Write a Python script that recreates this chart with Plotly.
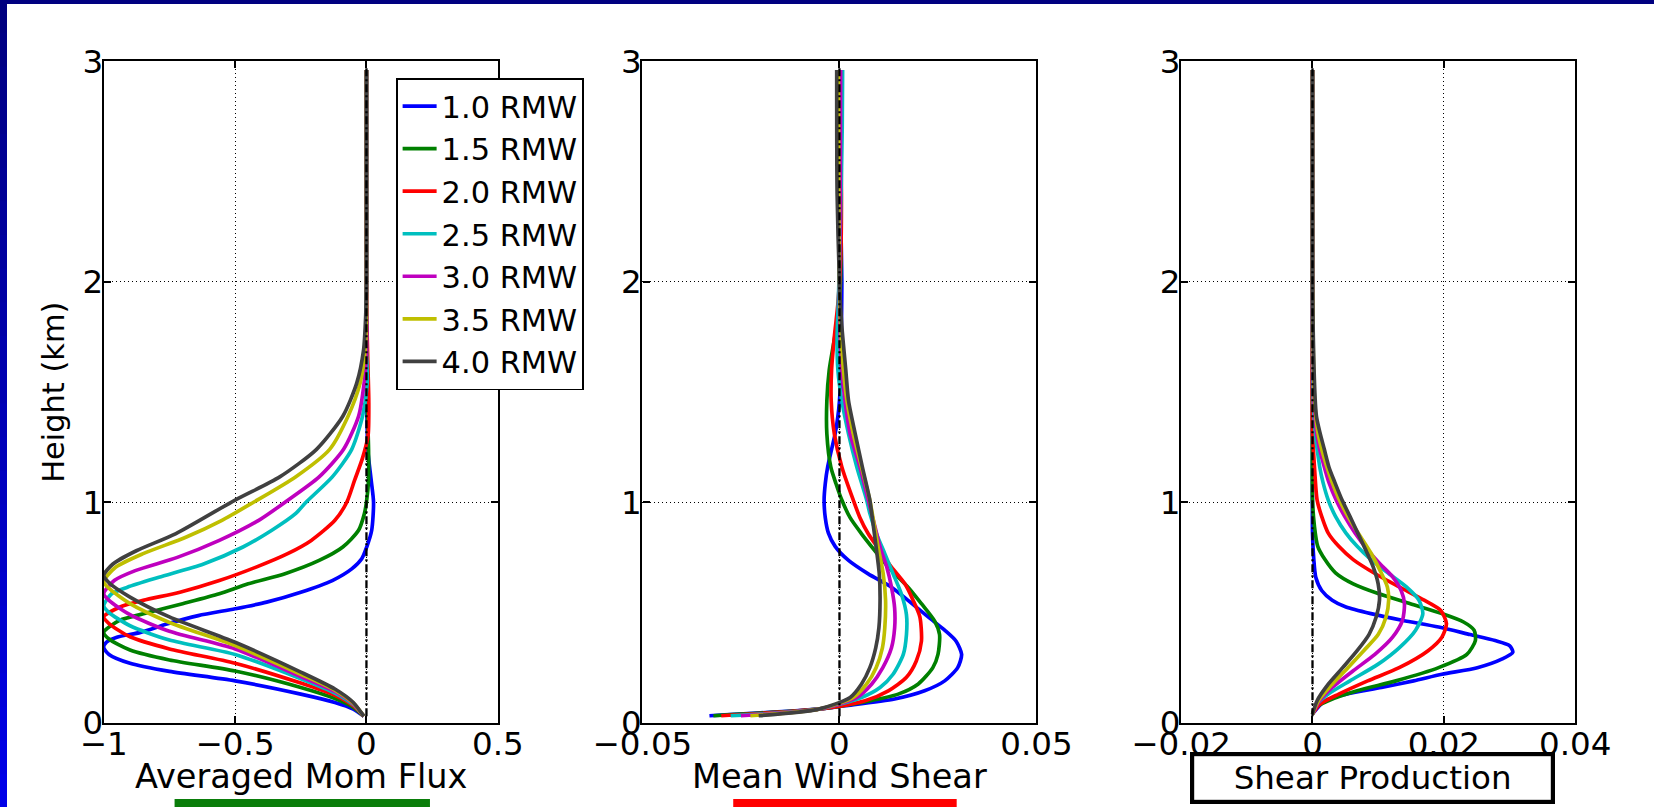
import plotly.graph_objects as go

REF_W, REF_H = 1658, 807
# The photographed page appears at ~95% scale with an offset; compensate so the
# picture lands on the reference geometry.
F = 0.953          # observed page->picture scale
OX, OY = 48.0, 19.0  # observed picture offset (px)
S = 1.0 / F
W, H = round(REF_W * S), round(REF_H * S)

# ---------------- data ----------------
SERIES = ["1.0 RMW", "1.5 RMW", "2.0 RMW", "2.5 RMW", "3.0 RMW", "3.5 RMW", "4.0 RMW"]
COLORS = ["#0000ff", "#008000", "#ff0000", "#00bfbf", "#bf00bf", "#bfbf00", "#404040"]

# Panel 1: Averaged Mom Flux (height km, value)
flux_z_10 = [0.03, 0.062, 0.092, 0.13, 0.19, 0.233, 0.27, 0.31, 0.34, 0.365, 0.388, 0.41, 0.448, 0.486, 0.517, 0.547, 0.592, 0.645, 0.698, 0.744, 0.797, 0.873, 1.0, 1.1, 1.24, 1.4, 1.6, 2.0, 2.5, 2.96]
flux_x_10 = [-0.01, -0.05, -0.12, -0.25, -0.5, -0.75, -0.9, -0.98, -1.0, -0.99, -0.95, -0.86, -0.76, -0.64, -0.50, -0.38, -0.25, -0.13, -0.056, -0.018, 0.001, 0.02, 0.027, 0.018, 0.005, 0.002, 0.0, 0.0, 0.0, 0.0]
flux_z_15 = [0.03, 0.07, 0.11, 0.16, 0.235, 0.285, 0.33, 0.38, 0.41, 0.464, 0.50, 0.54, 0.585, 0.63, 0.676, 0.736, 0.797, 0.873, 0.948, 1.0, 1.1, 1.24, 1.4, 1.6, 2.0, 2.5, 2.96]
flux_x_15 = [-0.01, -0.05, -0.12, -0.25, -0.5, -0.75, -0.9, -0.98, -1.0, -0.94, -0.83, -0.70, -0.56, -0.45, -0.31, -0.18, -0.09, -0.03, -0.008, 0.0, 0.008, 0.008, 0.004, 0.0, 0.0, 0.0, 0.0]
flux_z_20 = [0.03, 0.077, 0.125, 0.18, 0.27, 0.335, 0.39, 0.45, 0.48, 0.524, 0.555, 0.592, 0.645, 0.706, 0.767, 0.827, 0.918, 1.0, 1.1, 1.2, 1.3, 1.45, 1.6, 1.8, 2.0, 2.5, 2.96]
flux_x_20 = [-0.01, -0.05, -0.12, -0.25, -0.5, -0.75, -0.9, -0.98, -1.0, -0.94, -0.85, -0.71, -0.56, -0.42, -0.30, -0.21, -0.12, -0.075, -0.045, -0.015, 0.006, 0.009, 0.006, 0.002, 0.0, 0.0, 0.0]
flux_z_25 = [0.03, 0.082, 0.135, 0.20, 0.31, 0.375, 0.44, 0.50, 0.53, 0.585, 0.615, 0.66, 0.72, 0.797, 0.873, 0.948, 1.0, 1.115, 1.24, 1.39, 1.54, 1.7, 2.0, 2.5, 2.96]
flux_x_25 = [-0.01, -0.05, -0.12, -0.25, -0.5, -0.75, -0.9, -0.98, -1.0, -0.97, -0.91, -0.79, -0.62, -0.47, -0.36, -0.27, -0.23, -0.13, -0.056, -0.015, 0.003, 0.0, 0.0, 0.0, 0.0]
flux_z_30 = [0.03, 0.086, 0.142, 0.21, 0.335, 0.415, 0.49, 0.555, 0.585, 0.645, 0.69, 0.75, 0.827, 0.918, 1.0, 1.115, 1.24, 1.39, 1.54, 1.69, 2.0, 2.5, 2.96]
flux_x_30 = [-0.01, -0.05, -0.12, -0.25, -0.5, -0.75, -0.9, -0.98, -1.0, -0.96, -0.88, -0.72, -0.56, -0.41, -0.31, -0.18, -0.087, -0.03, -0.009, 0.0, 0.0, 0.0, 0.0]
flux_z_35 = [0.03, 0.089, 0.148, 0.22, 0.35, 0.455, 0.54, 0.61, 0.64, 0.705, 0.767, 0.84, 0.918, 1.0, 1.115, 1.24, 1.39, 1.54, 1.69, 1.84, 2.0, 2.5, 2.96]
flux_x_35 = [-0.01, -0.05, -0.12, -0.25, -0.5, -0.75, -0.9, -0.98, -1.0, -0.955, -0.85, -0.69, -0.55, -0.43, -0.27, -0.14, -0.07, -0.024, -0.005, 0.0, 0.0, 0.0, 0.0]
flux_z_40 = [0.03, 0.092, 0.153, 0.23, 0.365, 0.48, 0.57, 0.635, 0.668, 0.72, 0.78, 0.858, 1.01, 1.115, 1.24, 1.39, 1.54, 1.69, 1.84, 2.0, 2.5, 2.96]
flux_x_40 = [-0.01, -0.05, -0.12, -0.25, -0.5, -0.75, -0.9, -0.98, -1.0, -0.965, -0.876, -0.725, -0.5, -0.33, -0.19, -0.09, -0.037, -0.011, -0.003, 0.0, 0.0, 0.0]

# Panel 2: Mean Wind Shear
shear_z_10 = [0.032, 0.062, 0.077, 0.108, 0.145, 0.19, 0.25, 0.31, 0.37, 0.42, 0.48, 0.555, 0.615, 0.675, 0.736, 0.80, 0.86, 0.93, 1.01, 1.085, 1.16, 1.24, 1.31, 1.39, 1.46, 1.6, 1.8, 2.0, 2.3, 2.6, 2.96]
shear_x_10 = [-0.033, -0.0053, 0.0014, 0.014, 0.0216, 0.0267, 0.030, 0.031, 0.0296, 0.0267, 0.0225, 0.0174, 0.0132, 0.0073, 0.0023, -0.0011, -0.0028, -0.0036, -0.0039, -0.0036, -0.003, -0.002, -0.0011, -0.0004, 0.0, 0.0004, 0.0005, 0.0006, 0.0003, 0.0, 0.0]
shear_z_15 = [0.032, 0.062, 0.092, 0.13, 0.176, 0.25, 0.31, 0.40, 0.46, 0.54, 0.615, 0.706, 0.78, 0.857, 0.93, 1.01, 1.085, 1.16, 1.31, 1.46, 1.6, 1.75, 1.9, 2.1, 2.4, 2.7, 2.96]
shear_x_15 = [-0.032, -0.0053, 0.0056, 0.0149, 0.020, 0.0237, 0.025, 0.0254, 0.0242, 0.0208, 0.0174, 0.0124, 0.009, 0.0056, 0.0027, 0.0006, -0.0009, -0.0022, -0.0032, -0.0032, -0.0026, -0.0012, 0.0, 0.0004, 0.0004, 0.0002, 0.0]
shear_z_20 = [0.032, 0.062, 0.10, 0.145, 0.206, 0.28, 0.37, 0.48, 0.555, 0.63, 0.706, 0.78, 0.857, 0.93, 1.01, 1.16, 1.31, 1.46, 1.6, 1.75, 1.9, 2.1, 2.4, 2.7, 2.96]
shear_x_20 = [-0.030, -0.0053, 0.0065, 0.0124, 0.017, 0.0195, 0.0208, 0.0204, 0.0187, 0.0166, 0.0132, 0.0103, 0.0073, 0.0052, 0.0035, 0.0006, -0.0013, -0.0021, -0.002, -0.0013, -0.0004, 0.0003, 0.0005, 0.0003, 0.0]
shear_z_25 = [0.032, 0.062, 0.115, 0.16, 0.22, 0.31, 0.40, 0.49, 0.585, 0.676, 0.767, 0.857, 0.95, 1.01, 1.16, 1.31, 1.46, 1.6, 1.75, 1.9, 2.1, 2.4, 2.7, 2.96]
shear_x_25 = [-0.0276, -0.0053, 0.0056, 0.0103, 0.0136, 0.0162, 0.017, 0.017, 0.0157, 0.0136, 0.0115, 0.0094, 0.0077, 0.0069, 0.0044, 0.0023, 0.0006, -0.0004, -0.0006, -0.0003, 0.0, 0.0004, 0.0007, 0.0008]
shear_z_30 = [0.032, 0.062, 0.115, 0.176, 0.25, 0.34, 0.43, 0.52, 0.615, 0.706, 0.797, 0.89, 1.01, 1.16, 1.31, 1.46, 1.6, 1.8, 2.0, 2.4, 2.96]
shear_x_30 = [-0.025, -0.0053, 0.0044, 0.0082, 0.011, 0.0132, 0.014, 0.014, 0.0132, 0.012, 0.0103, 0.009, 0.0073, 0.0052, 0.0027, 0.0014, 0.0006, 0.0001, 0.0, 0.0002, 0.0003]
shear_z_35 = [0.032, 0.062, 0.115, 0.176, 0.25, 0.34, 0.43, 0.555, 0.676, 0.797, 0.92, 1.01, 1.16, 1.31, 1.46, 1.6, 1.8, 2.0, 2.4, 2.96]
shear_x_35 = [-0.0226, -0.0053, 0.0035, 0.0069, 0.0093, 0.0109, 0.0115, 0.0117, 0.0111, 0.0098, 0.0086, 0.0077, 0.0056, 0.0035, 0.0019, 0.001, 0.0003, 0.0, -0.0002, -0.0003]
shear_z_40 = [0.032, 0.062, 0.115, 0.176, 0.25, 0.34, 0.43, 0.555, 0.676, 0.797, 0.92, 1.01, 1.16, 1.31, 1.46, 1.6, 1.8, 2.0, 2.4, 2.96]
shear_x_40 = [-0.0205, -0.0053, 0.0027, 0.0056, 0.0077, 0.0092, 0.010, 0.0103, 0.0101, 0.0093, 0.0084, 0.0077, 0.0058, 0.004, 0.0023, 0.0016, 0.0006, 0.0, -0.0006, -0.0007]

# Panel 3: Shear Production
prod_z_10 = [0.04, 0.10, 0.13, 0.16, 0.19, 0.22, 0.25, 0.29, 0.32, 0.35, 0.373, 0.40, 0.434, 0.464, 0.495, 0.525, 0.556, 0.60, 0.66, 0.74, 0.86, 1.2, 2.0, 2.96]
prod_x_10 = [0.0, 0.0019, 0.0051, 0.0105, 0.0154, 0.0197, 0.0251, 0.0289, 0.0305, 0.030, 0.0278, 0.024, 0.0192, 0.0138, 0.0089, 0.0051, 0.003, 0.0014, 0.0005, 0.0002, 0.0, 0.0, 0.0, 0.0]
prod_z_15 = [0.04, 0.07, 0.10, 0.145, 0.19, 0.25, 0.31, 0.373, 0.42, 0.457, 0.495, 0.54, 0.586, 0.63, 0.68, 0.74, 0.80, 0.89, 1.01, 1.5, 2.96]
prod_x_15 = [0.0, 0.0005, 0.0024, 0.0068, 0.0127, 0.0192, 0.0235, 0.0248, 0.0246, 0.023, 0.0197, 0.0149, 0.010, 0.0062, 0.0035, 0.0019, 0.0008, 0.0003, 0.0, 0.0, 0.0]
prod_z_20 = [0.04, 0.084, 0.13, 0.19, 0.25, 0.327, 0.388, 0.45, 0.51, 0.556, 0.616, 0.677, 0.74, 0.80, 0.86, 0.936, 1.01, 1.16, 1.32, 2.0, 2.96]
prod_x_20 = [0.0, 0.0011, 0.004, 0.0084, 0.0132, 0.0176, 0.0197, 0.0204, 0.0195, 0.017, 0.0132, 0.0095, 0.0062, 0.004, 0.0024, 0.0014, 0.0007, 0.0003, 0.0, 0.0, 0.0]
prod_z_25 = [0.04, 0.084, 0.13, 0.19, 0.266, 0.34, 0.42, 0.495, 0.556, 0.616, 0.677, 0.74, 0.80, 0.86, 0.936, 1.01, 1.09, 1.16, 1.32, 1.47, 2.0, 2.96]
prod_x_25 = [0.0, 0.0007, 0.0024, 0.0057, 0.010, 0.0132, 0.0157, 0.0168, 0.0162, 0.0143, 0.0116, 0.0089, 0.0068, 0.0051, 0.0035, 0.0024, 0.0016, 0.0011, 0.0004, 0.0001, 0.0, 0.0]
prod_z_30 = [0.04, 0.10, 0.16, 0.236, 0.31, 0.388, 0.464, 0.54, 0.60, 0.662, 0.72, 0.784, 0.86, 0.936, 1.01, 1.09, 1.16, 1.24, 1.32, 1.47, 2.0, 2.96]
prod_x_30 = [0.0, 0.0011, 0.003, 0.0062, 0.0095, 0.0122, 0.0137, 0.014, 0.0135, 0.0122, 0.0103, 0.0084, 0.0065, 0.0049, 0.0036, 0.0025, 0.0018, 0.0011, 0.0006, 0.0002, 0.0, 0.0]
prod_z_35 = [0.04, 0.10, 0.175, 0.25, 0.327, 0.40, 0.48, 0.556, 0.616, 0.69, 0.77, 0.845, 0.92, 1.01, 1.09, 1.16, 1.24, 1.32, 1.47, 2.0, 2.96]
prod_x_35 = [0.0, 0.0009, 0.003, 0.0054, 0.0078, 0.010, 0.0112, 0.0116, 0.0114, 0.0103, 0.0089, 0.0073, 0.0057, 0.0041, 0.003, 0.0022, 0.0014, 0.0008, 0.0003, 0.0, 0.0]
prod_z_40 = [0.04, 0.10, 0.175, 0.25, 0.327, 0.40, 0.48, 0.556, 0.63, 0.71, 0.784, 0.86, 0.936, 1.01, 1.09, 1.16, 1.24, 1.32, 1.39, 1.47, 2.0, 2.96]
prod_x_40 = [0.0, 0.0007, 0.0024, 0.0046, 0.0068, 0.0086, 0.0097, 0.0102, 0.010, 0.0092, 0.0081, 0.0069, 0.0057, 0.0045, 0.0034, 0.0025, 0.0018, 0.0011, 0.0006, 0.0004, 0.0, 0.0]

ZERO_LINE_Z = [0.03, 2.97]
ZERO_LINE_X = [0.0, 0.0]

Y_TICKS = [0, 1, 2, 3]
Y_TICKTEXT = ["0", "1", "2", "3"]
FLUX_TICKS = [-1, -0.5, 0, 0.5]
FLUX_TICKTEXT = ["\u22121", "\u22120.5", "0", "0.5"]
SHEAR_TICKS = [-0.05, 0, 0.05]
SHEAR_TICKTEXT = ["\u22120.05", "0", "0.05"]
PROD_TICKS = [-0.02, 0, 0.02, 0.04]
PROD_TICKTEXT = ["\u22120.02", "0", "0.02", "0.04"]

X_TITLES = ["Averaged Mom Flux", "Mean Wind Shear", "Shear Production"]
Y_TITLE = "Height (km)"

flux = [(flux_z_10, flux_x_10), (flux_z_15, flux_x_15), (flux_z_20, flux_x_20), (flux_z_25, flux_x_25),
        (flux_z_30, flux_x_30), (flux_z_35, flux_x_35), (flux_z_40, flux_x_40)]
shear = [(shear_z_10, shear_x_10), (shear_z_15, shear_x_15), (shear_z_20, shear_x_20), (shear_z_25, shear_x_25),
         (shear_z_30, shear_x_30), (shear_z_35, shear_x_35), (shear_z_40, shear_x_40)]
prod = [(prod_z_10, prod_x_10), (prod_z_15, prod_x_15), (prod_z_20, prod_x_20), (prod_z_25, prod_x_25),
        (prod_z_30, prod_x_30), (prod_z_35, prod_x_35), (prod_z_40, prod_x_40)]

# ---------------- figure ----------------
FONT = "DejaVu Sans"
fig = go.Figure()

def s(v):
    return v * S

axes_ids = [("x", "y"), ("x2", "y2"), ("x3", "y3")]
for p, panel in enumerate([flux, shear, prod]):
    xa, ya = axes_ids[p]
    for i, (z, v) in enumerate(panel):
        fig.add_trace(go.Scatter(
            x=v, y=z, xaxis=xa, yaxis=ya, mode="lines",
            line=dict(color=COLORS[i], width=s(3.5), shape="spline", smoothing=0.7),
            name=SERIES[i], showlegend=(p == 0), legendgroup=SERIES[i],
            hoverinfo="skip"))
    fig.add_trace(go.Scatter(
        x=ZERO_LINE_X, y=ZERO_LINE_Z, xaxis=xa, yaxis=ya, mode="lines",
        line=dict(color="black", width=s(2.2), dash="8px,3px,2px,3px"),
        showlegend=False, hoverinfo="skip"))

def px(x):
    return x / REF_W

def py(y):
    return 1 - y / REF_H

common_axis = dict(
    showline=True, linecolor="black", linewidth=s(2.2), mirror="ticks",
    ticks="inside", ticklen=round(s(7)), tickwidth=s(2), tickcolor="black",
    showgrid=True, gridcolor="black", gridwidth=1, griddash="1px,3px",
    zeroline=False, tickfont=dict(family=FONT, size=s(31), color="black"),
)
y_dom = [py(722), py(62)]
x_doms = [[px(104), px(499)], [px(644), px(1039)], [px(1184), px(1579)]]
ranges = [[-1, 0.5], [-0.05, 0.05], [-0.02, 0.04]]
tickvals = [FLUX_TICKS, SHEAR_TICKS, PROD_TICKS]
ticktexts = [FLUX_TICKTEXT, SHEAR_TICKTEXT, PROD_TICKTEXT]

layout = dict(
    width=W, height=H, autosize=False, margin=dict(l=0, r=0, t=0, b=0, pad=0),
    paper_bgcolor="white", plot_bgcolor="white",
    font=dict(family=FONT, color="black"),
    showlegend=True,
    legend=dict(x=px(397), y=py(79), xanchor="left", yanchor="top",
                bgcolor="white", bordercolor="black", borderwidth=s(1.5),
                font=dict(family=FONT, size=s(29), color="black"),
                tracegroupgap=0, itemwidth=34),
)
for p in range(3):
    sfx = "" if p == 0 else str(p + 1)
    layout["xaxis" + sfx] = dict(common_axis, domain=x_doms[p], range=ranges[p],
                                 tickvals=tickvals[p], ticktext=ticktexts[p],
                                 ticklabelstandoff=-9, anchor="y" + sfx)
    layout["yaxis" + sfx] = dict(common_axis, domain=y_dom, range=[0, 3],
                                 tickvals=Y_TICKS, ticktext=Y_TICKTEXT,
                                 ticklabelstandoff=-8, anchor="x" + sfx)
fig.update_layout(**layout)

shapes = []
# left gradient band (overlapping slices to avoid seams)
n = 24
for k in range(n):
    t = k / (n - 1)
    b = int(128 + (232 - 128) * t)
    shapes.append(dict(type="rect", xref="paper", yref="paper", x0=0, x1=px(7),
                       y0=max(0.0, py(REF_H * (k + 1) / n + 2)), y1=py(REF_H * k / n),
                       fillcolor=f"rgb(0,0,{b})", line=dict(width=0), layer="above"))
# top navy band
shapes.append(dict(type="rect", xref="paper", yref="paper", x0=0, x1=1, y0=py(5), y1=1,
                   fillcolor="#000080", line=dict(width=0), layer="above"))
# colored bars under titles
shapes.append(dict(type="rect", xref="paper", yref="paper", x0=px(175), x1=px(431),
                   y0=py(807), y1=py(798), fillcolor="#0a7d0a", line=dict(width=0)))
shapes.append(dict(type="rect", xref="paper", yref="paper", x0=px(735), x1=px(959),
                   y0=py(807), y1=py(798), fillcolor="#ff0000", line=dict(width=0)))
fig.update_layout(shapes=shapes)

annotations = [
    dict(text=X_TITLES[0], x=px(302), y=py(776), xref="paper", yref="paper",
         xanchor="center", yanchor="middle",
         showarrow=False, font=dict(family=FONT, size=s(32), color="black")),
    dict(text=X_TITLES[1], x=px(842), y=py(776), xref="paper", yref="paper",
         xanchor="center", yanchor="middle",
         showarrow=False, font=dict(family=FONT, size=s(32), color="black")),
    dict(text=X_TITLES[2], x=px(1376), y=py(777), xref="paper", yref="paper",
         xanchor="center", yanchor="middle",
         showarrow=False, font=dict(family=FONT, size=s(31), color="black"),
         bgcolor="white", bordercolor="black", borderwidth=s(4), borderpad=0,
         width=s(340), height=s(42)),
    dict(text=Y_TITLE, x=px(54), y=py(392), xref="paper", yref="paper",
         xanchor="center", yanchor="middle",
         showarrow=False, textangle=-90, font=dict(family=FONT, size=s(29), color="black")),
]
fig.update_layout(annotations=annotations)

POST = (
    "var gd=document.getElementById('{plot_id}');"
    "var de=document.documentElement, bd=document.body;"
    "de.style.margin='0';de.style.padding='0';de.style.overflow='hidden';"
    "bd.style.margin='0';bd.style.padding='0';bd.style.overflow='hidden';"
    "gd.style.position='absolute';"
    "gd.style.left='" + f"{-OX / F:.1f}" + "px';"
    "gd.style.top='" + f"{-OY / F:.1f}" + "px';"
)
fig.write_html("out.html", config={"displayModeBar": False}, post_script=POST)
